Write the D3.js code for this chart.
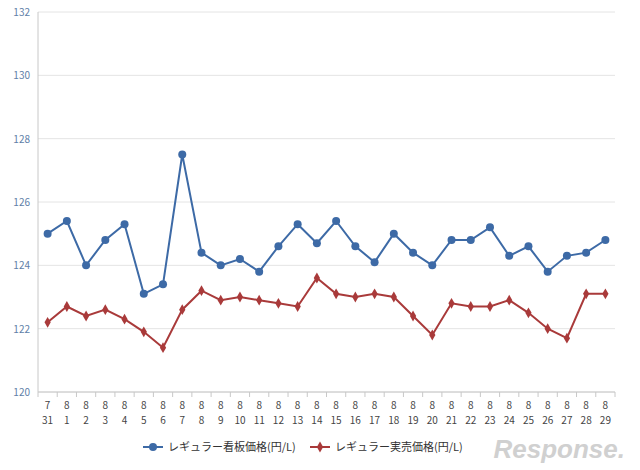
<!DOCTYPE html>
<html><head><meta charset="utf-8">
<script src="https://cdn.jsdelivr.net/npm/d3@7"></script>
<style>body{margin:0;background:#fff;font-family:"Noto Sans CJK JP","DejaVu Sans",sans-serif}</style>
</head><body><div id="chart"></div>
<script>
const months = ['7','8','8','8','8','8','8','8','8','8','8','8','8','8','8','8','8','8','8','8','8','8','8','8','8','8','8','8','8','8'];
const days = ['31','1','2','3','4','5','6','7','8','9','10','11','12','13','14','15','16','17','18','19','20','21','22','23','24','25','26','27','28','29'];
const signPrice = [125.0,125.4,124.0,124.8,125.3,123.1,123.4,127.5,124.4,124.0,124.2,123.8,124.6,125.3,124.7,125.4,124.6,124.1,125.0,124.4,124.0,124.8,124.8,125.2,124.3,124.6,123.8,124.3,124.4,124.8];
const salePrice = [122.2,122.7,122.4,122.6,122.3,121.9,121.4,122.6,123.2,122.9,123.0,122.9,122.8,122.7,123.6,123.1,123.0,123.1,123.0,122.4,121.8,122.8,122.7,122.7,122.9,122.5,122.0,121.7,123.1,123.1];
const yTickVals = [120,122,124,126,128,130,132];
const seriesNames = ['レギュラー看板価格(円/L)','レギュラー実売価格(円/L)'];
const colors = ['#3d6aa6','#a93a3a'];

const width = 640, height = 470;
const margin = {top: 12, right: 25, bottom: 78, left: 38};
const svg = d3.select('#chart').append('svg').attr('width', width).attr('height', height);

const idx = d3.range(days.length);
const x = d3.scaleBand().domain(idx).range([margin.left, width - margin.right]);
const y = d3.scaleLinear().domain([120, 132]).range([height - margin.bottom, margin.top]);

// gridlines
svg.append('g').selectAll('line').data(yTickVals).join('line')
	.attr('x1', margin.left).attr('x2', width - margin.right)
	.attr('y1', d => y(d)).attr('y2', d => y(d))
	.attr('stroke', '#e4e4e4');

// y labels
svg.append('g').selectAll('text').data(yTickVals).join('text')
	.attr('x', margin.left - 8).attr('y', d => y(d) + 4)
	.attr('text-anchor', 'end').attr('font-size', 10).attr('fill', '#6080a8')
	.text(d => d);

// axes lines
svg.append('line').attr('x1', margin.left).attr('x2', margin.left)
	.attr('y1', margin.top).attr('y2', y(120)).attr('stroke', '#c8c8c8');
svg.append('line').attr('x1', margin.left).attr('x2', width - margin.right)
	.attr('y1', y(120)).attr('y2', y(120)).attr('stroke', '#c8c8c8');
svg.append('g').selectAll('line').data(d3.range(days.length + 1)).join('line')
	.attr('x1', d => margin.left + d * x.step()).attr('x2', d => margin.left + d * x.step())
	.attr('y1', y(120)).attr('y2', y(120) + 5).attr('stroke', '#c8c8c8');

// x labels
const xl = svg.append('g').selectAll('text').data(idx).join('text')
	.attr('text-anchor', 'middle').attr('font-size', 10).attr('fill', '#444');
xl.append('tspan').attr('x', d => x(d) + x.bandwidth() / 2).attr('y', y(120) + 17).text(d => months[d]);
xl.append('tspan').attr('x', d => x(d) + x.bandwidth() / 2).attr('y', y(120) + 32).text(d => days[d]);

const cx = i => x(i) + x.bandwidth() / 2;
const line = d3.line().x((d, i) => cx(i)).y(d => y(d));

[signPrice, salePrice].forEach((s, k) => {
	svg.append('path').datum(s).attr('fill', 'none').attr('stroke', colors[k])
		.attr('stroke-width', 2).attr('d', line);
});
svg.append('g').selectAll('circle').data(signPrice).join('circle')
	.attr('cx', (d, i) => cx(i)).attr('cy', d => y(d)).attr('r', 4).attr('fill', colors[0]);
svg.append('g').selectAll('path').data(salePrice).join('path')
	.attr('d', d3.symbol(d3.symbolDiamond, 34))
	.attr('transform', (d, i) => `translate(${cx(i)},${y(d)})`)
	.attr('fill', colors[1]);

// legend
const lg = svg.append('g').attr('font-size', 11).attr('fill', '#333');
const lx = [143, 310], ly = 447;
seriesNames.forEach((n, k) => {
	lg.append('line').attr('x1', lx[k]).attr('x2', lx[k] + 20).attr('y1', ly).attr('y2', ly)
		.attr('stroke', colors[k]).attr('stroke-width', 2);
	if (k === 0) lg.append('circle').attr('cx', lx[k] + 10).attr('cy', ly).attr('r', 4).attr('fill', colors[k]);
	else lg.append('path').attr('d', d3.symbol(d3.symbolDiamond, 34))
		.attr('transform', `translate(${lx[k] + 10},${ly})`).attr('fill', colors[k]);
	lg.append('text').attr('x', lx[k] + 25).attr('y', ly + 4).text(n);
});

// watermark
svg.append('text').attr('x', 625).attr('y', 458).attr('text-anchor', 'end')
	.attr('font-size', 26).attr('font-style', 'italic').attr('font-weight', 'bold')
	.attr('fill', '#d0d0d0').attr('font-family', 'Liberation Sans, sans-serif').text('Response.');
</script></body></html>
